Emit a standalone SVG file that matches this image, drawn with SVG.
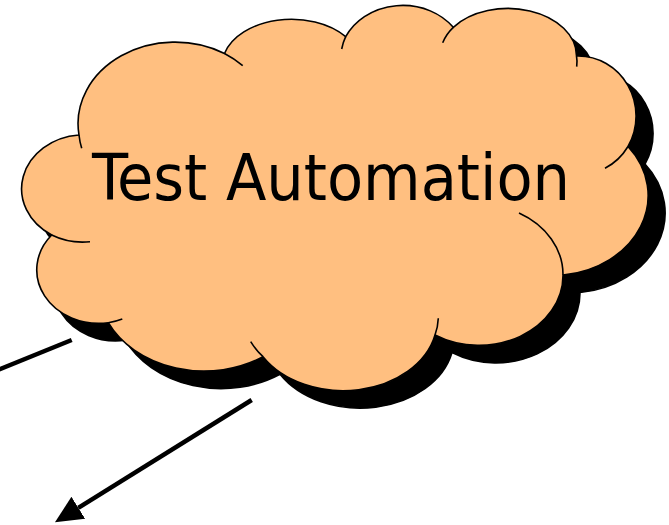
<svg xmlns="http://www.w3.org/2000/svg" width="669" height="525" viewBox="0 0 669 525">
  <defs>
    <style>
      .cloud { fill: #FFBF80; stroke: #000; stroke-width: 1.6; stroke-linejoin: round; }
      .shadow { fill: #000; stroke: #000; stroke-width: 1.6; }
      .hook { fill: none; stroke: #000; stroke-width: 1.6; stroke-linecap: butt; }
      .conn { fill: none; stroke: #000; stroke-width: 4.5; }
      .label { font-family: 'DejaVu Sans Condensed', 'DejaVu Sans', sans-serif; font-stretch: condensed; font-size: 64px; fill: #000; }
    </style>
    <path id="cloudOutline" d="M 79,135 A 97 81.5 0 0 1 224.5,53.5 A 69.3 46.1 0 0 1 345.7,36.7 A 63 54.3 0 0 1 453.3,27.3 A 68.5 47.4 0 0 1 576.5,56 A 58 60 0 0 1 628,146.5 A 96 80 0 0 1 563,275 A 84 70 0 0 1 435,335 A 94 71 0 0 1 263,356.7 A 106 85 0 0 1 108.3,322.7 A 62 53.5 0 0 1 51.7,235 A 62.5 54 0 0 1 79,135 Z"/>
    <marker id="arrow" markerUnits="userSpaceOnUse" markerWidth="28" markerHeight="28" viewBox="0 -13 27 26" refX="0" refY="0" orient="auto">
      <path d="M 0,-12.5 L 26.5,0 L 0,12.5 Z" fill="#000"/>
    </marker>
  </defs>

  <g id="connectors">
    <line class="conn" x1="71.7" y1="340" x2="-12" y2="374"/>
    <line class="conn" x1="251.7" y1="400" x2="78.3" y2="507.8" marker-end="url(#arrow)"/>
  </g>

  <g id="test-automation">
    <use href="#cloudOutline" class="shadow" transform="translate(17,17.5)"/>
    <use href="#cloudOutline" class="cloud"/>
    <path class="hook" d="M 79,135 A 97 81.5 0 0 0 81.7,148.3"/>
    <path class="hook" d="M 224.5,53.5 A 97 81.5 0 0 1 242.7,65.7"/>
    <path class="hook" d="M 345.7,36.7 A 63 54.3 0 0 0 341.7,49"/>
    <path class="hook" d="M 453.3,27.3 A 68.5 47.4 0 0 0 442.7,42.7"/>
    <path class="hook" d="M 576.5,56 A 68.5 47.4 0 0 1 576.7,66.7"/>
    <path class="hook" d="M 628,146.5 A 58 60 0 0 1 605,168.3"/>
    <path class="hook" d="M 563,275 A 84 70 0 0 0 519,213"/>
    <path class="hook" d="M 435,335 A 94 71 0 0 0 438.3,318.3"/>
    <path class="hook" d="M 263,356.7 A 94 71 0 0 1 250.7,341.7"/>
    <path class="hook" d="M 108.3,322.7 A 62 53.5 0 0 0 122.3,319"/>
    <path class="hook" d="M 51.7,235 A 62.5 54 0 0 0 90,241.7"/>
    <text class="label" x="92" y="199.5" textLength="478" lengthAdjust="spacingAndGlyphs">Test Automation</text>
  </g>
</svg>
